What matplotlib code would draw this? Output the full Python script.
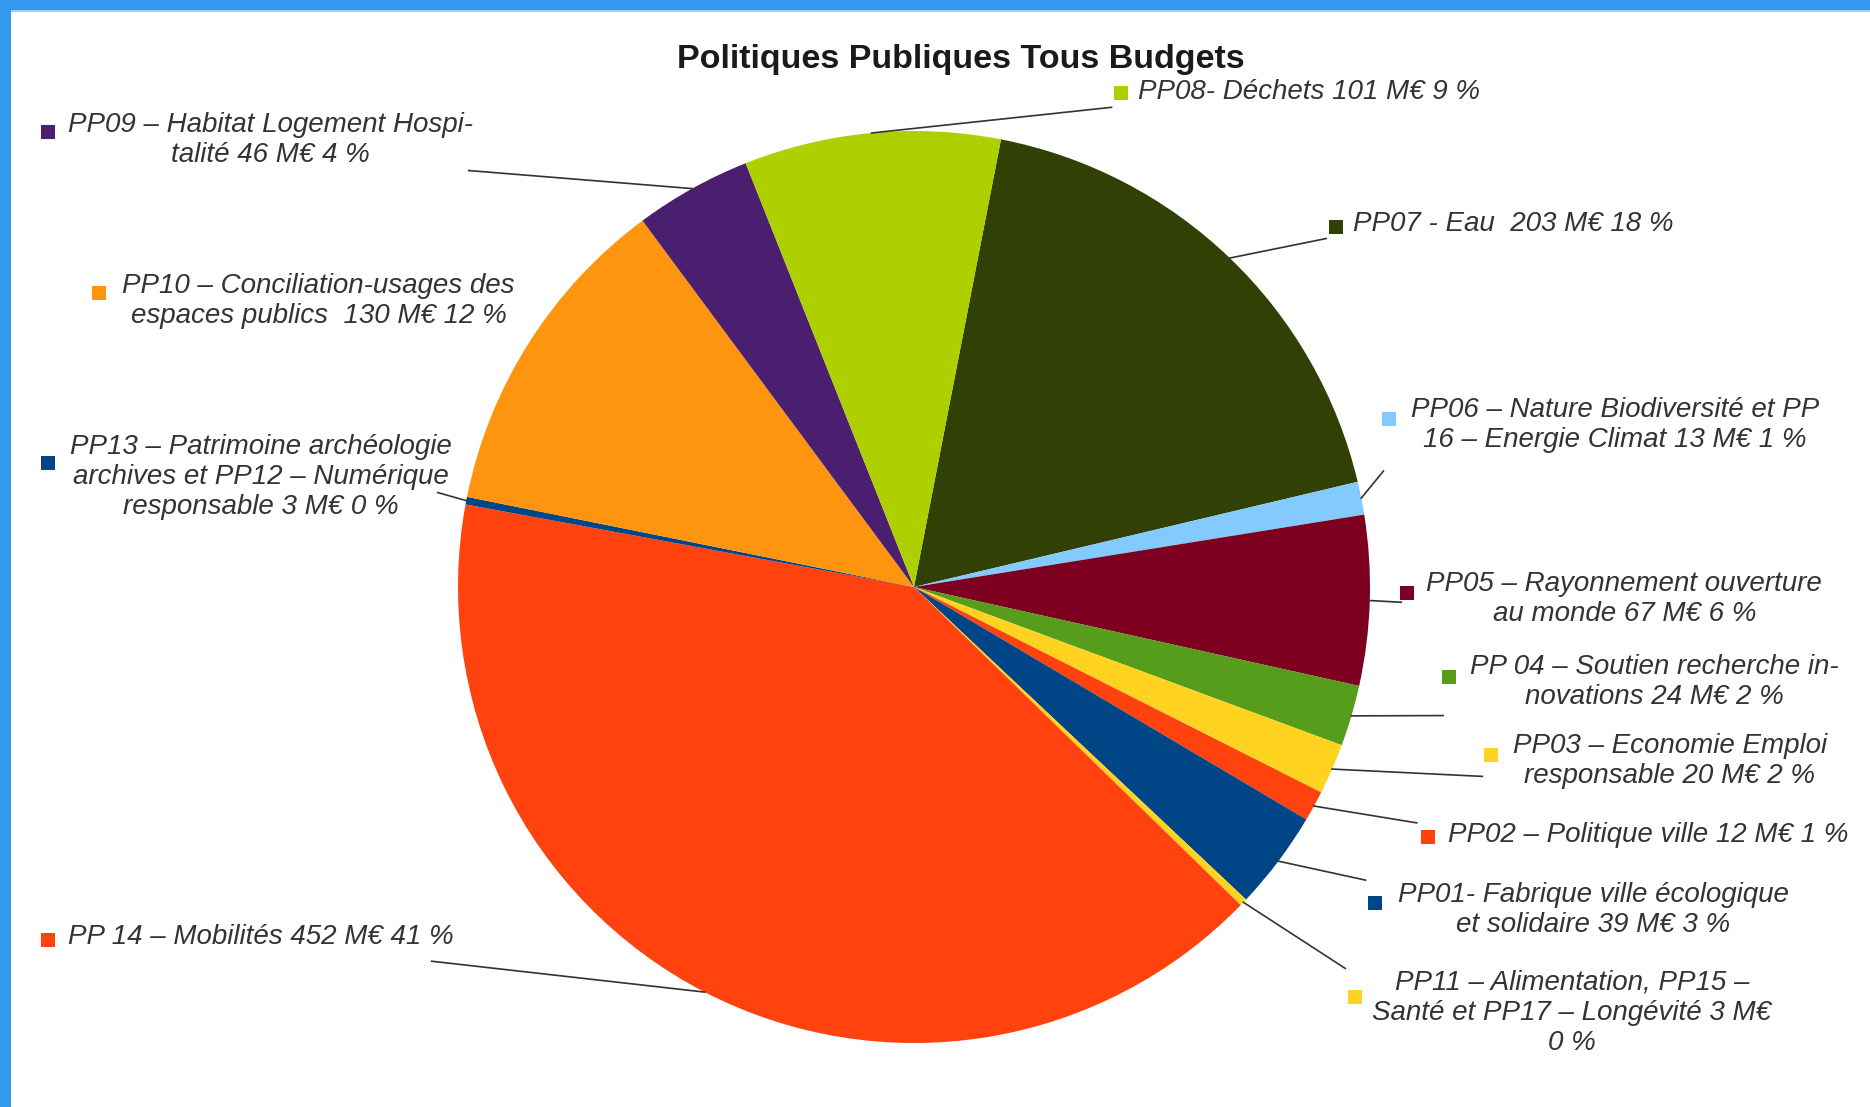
import numpy as np
import matplotlib
matplotlib.use("Agg")
import matplotlib.pyplot as plt
from matplotlib.patches import Rectangle

# data, clockwise from the top
labels = [
    "PP07 - Eau  203 M€ 18 %",
    "PP06 – Nature Biodiversité et PP\n16 – Energie Climat 13 M€ 1 %",
    "PP05 – Rayonnement ouverture\nau monde 67 M€ 6 %",
    "PP 04 – Soutien recherche in-\nnovations 24 M€ 2 %",
    "PP03 – Economie Emploi\nresponsable 20 M€ 2 %",
    "PP02 – Politique ville 12 M€ 1 %",
    "PP01- Fabrique ville écologique\net solidaire 39 M€ 3 %",
    "PP11 – Alimentation, PP15 –\nSanté et PP17 – Longévité 3 M€\n0 %",
    "PP 14 – Mobilités 452 M€ 41 %",
    "PP13 – Patrimoine archéologie\narchives et PP12 – Numérique\nresponsable 3 M€ 0 %",
    "PP10 – Conciliation-usages des\nespaces publics  130 M€ 12 %",
    "PP09 – Habitat Logement Hospi-\ntalité 46 M€ 4 %",
    "PP08- Déchets 101 M€ 9 %",
]
values = [203, 13, 67, 24, 20, 12, 39, 3, 452, 3, 130, 46, 101]
colors = ["#314004", "#83caff", "#7e0021", "#579d1c", "#ffd320", "#ff420e",
          "#004586", "#ffd320", "#ff420e", "#004586", "#ff950e", "#4b1f6f",
          "#aecf00"]

# layout (pixels of the original picture, y downward)
W, H = 1870, 1107
S = W / 1568.0
cx, cy, r = 914, 587, 456
text_pos = [(1269, 188), (1354, 356), (1362, 502), (1387, 572), (1400, 638),
            (1382, 700), (1336, 763), (1318, 849), (219, 786), (219, 400),
            (267, 252), (227, 117), (1098, 77)]
mark_pos = [(1120, 190), (1165, 351), (1180, 497), (1215, 568), (1250, 633),
            (1197, 702), (1153, 757), (1136, 836), (40, 788), (40, 388),
            (83, 246), (40, 111), (940, 78)]
line_end = [(1112, 200), (1160, 395), (1175, 505), (1210, 600), (1243, 651),
            (1188, 690), (1145, 738), (1128, 812), (362, 806), (367, 413),
            None, (393, 143), (932, 90)]

fig = plt.figure(figsize=(W / 100, H / 100), dpi=100)
ax = fig.add_axes([0, 0, 1, 1])

# y axis is inverted, so counterclockwise in data = clockwise on screen
wedges, _ = ax.pie(values, colors=colors, startangle=-79, counterclock=True,
                   center=(cx, cy), radius=r,
                   wedgeprops=dict(linewidth=0))
ax.set_xlim(0, W)
ax.set_ylim(H, 0)
ax.axis("off")

txt_kw = dict(family="Liberation Sans", style="italic", fontsize=20,
              color="#333333", ha="center", va="center",
              multialignment="center", linespacing=1.2)

for i, w in enumerate(wedges):
    tx, ty = text_pos[i]
    ax.text(tx * S, ty * S, labels[i], **txt_kw)
    mx, my = mark_pos[i]
    sz = 14
    ax.add_patch(Rectangle((mx * S - sz / 2, my * S - sz / 2), sz, sz,
                           color=colors[i], lw=0))
    if line_end[i] is not None:
        mid = np.deg2rad((w.theta1 + w.theta2) / 2)
        x0 = cx + r * np.cos(mid)
        y0 = cy + r * np.sin(mid)
        ex, ey = line_end[i]
        ax.plot([x0, ex * S], [y0, ey * S], color="#333333", lw=1.2)

ax.text(806 * S, 50 * S, "Politiques Publiques Tous Budgets",
        family="Liberation Sans", weight="bold", fontsize=24.5,
        color="#1a1a1a", ha="center", va="center")

# blue frame on top and left
ax.add_patch(Rectangle((0, 0), W, 10, color="#3399ee", lw=0))
ax.add_patch(Rectangle((0, 10), W, 2, color="#9fd0f5", lw=0))
ax.add_patch(Rectangle((0, 0), 11, H, color="#3399ee", lw=0))

fig.savefig("out.png", dpi=100)
